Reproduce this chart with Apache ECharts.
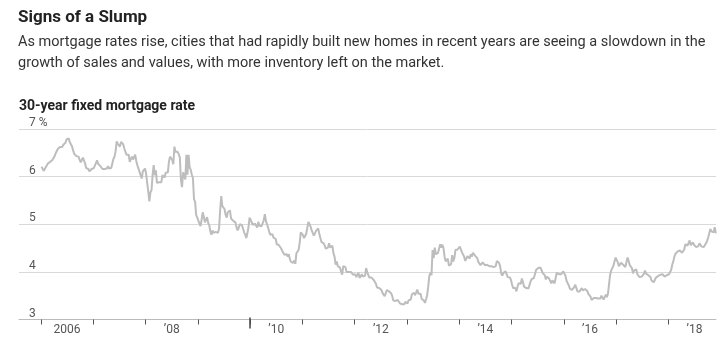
<!DOCTYPE html>
<html>
<head>
<meta charset="utf-8">
<script src="https://cdn.jsdelivr.net/npm/echarts@6/dist/echarts.min.js"></script>
<style>
  html, body { margin: 0; padding: 0; background: #fff; }
  #chart { width: 728px; height: 350px; }
</style>
</head>
<body>
<div id="chart"></div>
<script>
// weekly 30-year fixed rate, 4 readings per month
const rates2006 = [6.21, 6.21, 6.12, 6.12, 6.20, 6.24, 6.28, 6.24, 6.31, 6.35, 6.35, 6.37, 6.43, 6.49, 6.53, 6.58, 6.58, 6.62, 6.60, 6.62, 6.67, 6.63, 6.71, 6.78, 6.74, 6.80, 6.72, 6.72, 6.64, 6.55, 6.48, 6.48, 6.43, 6.40, 6.42, 6.35, 6.30, 6.34, 6.40, 6.37, 6.28, 6.18, 6.14, 6.16, 6.11, 6.14, 6.16, 6.18]
const rates2007 = [6.18, 6.23, 6.25, 6.34, 6.27, 6.29, 6.22, 6.18, 6.16, 6.14, 6.16, 6.16, 6.17, 6.22, 6.17, 6.16, 6.18, 6.15, 6.37, 6.42, 6.53, 6.74, 6.69, 6.67, 6.63, 6.73, 6.69, 6.68, 6.59, 6.62, 6.46, 6.45, 6.46, 6.31, 6.34, 6.42, 6.36, 6.40, 6.46, 6.33, 6.24, 6.20, 6.10, 6.10, 5.96, 6.11, 6.14, 6.17]
const rates2008 = [6.07, 5.87, 5.69, 5.48, 5.67, 5.72, 6.04, 6.24, 6.03, 6.13, 5.87, 5.85, 5.88, 5.88, 5.88, 6.03, 6.06, 5.98, 6.08, 6.08, 6.09, 6.32, 6.42, 6.45, 6.35, 6.26, 6.63, 6.52, 6.52, 6.52, 6.47, 6.40, 5.93, 5.78, 6.09, 6.10, 5.94, 6.46, 6.04, 6.46, 6.20, 6.14, 6.04, 5.97, 5.53, 5.47, 5.19, 5.14]
const rates2009 = [5.10, 5.01, 4.96, 5.10, 5.25, 5.16, 5.04, 5.07, 5.15, 5.03, 4.98, 4.85, 4.78, 4.87, 4.82, 4.78, 4.84, 4.86, 4.82, 4.91, 5.29, 5.59, 5.38, 5.42, 5.32, 5.20, 5.14, 5.25, 5.22, 5.29, 5.12, 5.08, 5.07, 5.03, 5.04, 4.94, 4.87, 4.92, 5.00, 5.03, 4.98, 4.91, 4.83, 4.78, 4.71, 4.81, 4.94, 5.14]
const rates2010 = [5.09, 5.06, 4.99, 4.98, 5.01, 4.97, 4.93, 5.05, 4.97, 4.95, 4.96, 4.99, 5.08, 5.21, 5.07, 5.00, 4.93, 4.84, 4.78, 4.78, 4.79, 4.72, 4.75, 4.69, 4.58, 4.57, 4.56, 4.54, 4.49, 4.44, 4.42, 4.36, 4.35, 4.37, 4.32, 4.37, 4.27, 4.21, 4.23, 4.19, 4.24, 4.17, 4.39, 4.40, 4.46, 4.61, 4.83, 4.86]
const rates2011 = [4.77, 4.71, 4.74, 4.80, 4.81, 5.05, 5.00, 4.95, 4.87, 4.88, 4.76, 4.81, 4.86, 4.87, 4.91, 4.80, 4.71, 4.63, 4.61, 4.60, 4.55, 4.49, 4.50, 4.51, 4.60, 4.51, 4.52, 4.55, 4.39, 4.32, 4.15, 4.22, 4.12, 4.09, 4.09, 4.01, 3.94, 4.12, 4.11, 4.10, 4.00, 3.99, 4.00, 3.98, 4.00, 3.99, 3.94, 3.91]
const rates2012 = [3.95, 3.89, 3.88, 3.98, 3.87, 3.87, 3.95, 3.90, 3.88, 3.92, 4.08, 3.99, 3.98, 3.88, 3.90, 3.88, 3.84, 3.83, 3.79, 3.75, 3.67, 3.71, 3.66, 3.66, 3.62, 3.56, 3.53, 3.49, 3.55, 3.62, 3.66, 3.59, 3.55, 3.55, 3.49, 3.40, 3.36, 3.39, 3.37, 3.41, 3.40, 3.34, 3.31, 3.32, 3.34, 3.32, 3.37, 3.35]
const rates2013 = [3.34, 3.40, 3.38, 3.42, 3.53, 3.53, 3.56, 3.51, 3.51, 3.63, 3.54, 3.57, 3.54, 3.43, 3.41, 3.40, 3.35, 3.42, 3.51, 3.69, 3.91, 3.98, 3.93, 4.46, 4.29, 4.51, 4.37, 4.39, 4.40, 4.40, 4.58, 4.51, 4.57, 4.50, 4.32, 4.22, 4.23, 4.28, 4.13, 4.10, 4.16, 4.35, 4.22, 4.29, 4.46, 4.42, 4.47, 4.48]
const rates2014 = [4.53, 4.51, 4.41, 4.39, 4.32, 4.23, 4.28, 4.33, 4.37, 4.28, 4.37, 4.32, 4.40, 4.41, 4.34, 4.33, 4.29, 4.21, 4.20, 4.14, 4.14, 4.20, 4.17, 4.14, 4.15, 4.15, 4.13, 4.12, 4.14, 4.12, 4.10, 4.10, 4.10, 4.12, 4.23, 4.20, 4.19, 4.12, 3.97, 3.92, 3.98, 4.02, 4.01, 3.97, 3.89, 3.93, 3.88, 3.83]
const rates2015 = [3.73, 3.66, 3.63, 3.66, 3.59, 3.69, 3.76, 3.80, 3.75, 3.86, 3.78, 3.69, 3.70, 3.66, 3.67, 3.65, 3.68, 3.80, 3.85, 3.84, 3.87, 3.87, 4.04, 4.00, 4.08, 4.04, 4.09, 4.04, 3.98, 3.94, 3.93, 3.84, 3.90, 3.91, 3.86, 3.85, 3.76, 3.82, 3.79, 3.76, 3.87, 3.98, 3.97, 3.95, 3.93, 3.95, 3.97, 4.01]
const rates2016 = [3.97, 3.92, 3.81, 3.79, 3.72, 3.65, 3.65, 3.62, 3.64, 3.68, 3.73, 3.71, 3.59, 3.58, 3.59, 3.59, 3.66, 3.61, 3.57, 3.64, 3.66, 3.60, 3.54, 3.56, 3.48, 3.41, 3.42, 3.45, 3.43, 3.45, 3.43, 3.44, 3.46, 3.44, 3.50, 3.48, 3.42, 3.47, 3.52, 3.47, 3.54, 3.57, 3.94, 4.03, 4.08, 4.13, 4.16, 4.30]
const rates2017 = [4.32, 4.20, 4.12, 4.09, 4.19, 4.17, 4.15, 4.16, 4.10, 4.21, 4.30, 4.23, 4.14, 4.10, 4.08, 3.97, 4.03, 4.02, 4.05, 3.95, 3.94, 3.89, 3.91, 3.90, 3.88, 3.96, 4.03, 3.96, 3.92, 3.93, 3.90, 3.89, 3.82, 3.78, 3.78, 3.83, 3.88, 3.85, 3.91, 3.88, 3.94, 3.94, 3.95, 3.92, 3.90, 3.94, 3.93, 3.94]
const rates2018 = [3.95, 3.99, 4.04, 4.15, 4.22, 4.32, 4.38, 4.40, 4.43, 4.46, 4.45, 4.44, 4.40, 4.42, 4.47, 4.58, 4.55, 4.55, 4.61, 4.66, 4.56, 4.54, 4.62, 4.57, 4.55, 4.52, 4.53, 4.54, 4.60, 4.59, 4.53, 4.51, 4.52, 4.54, 4.60, 4.65, 4.72, 4.71, 4.90, 4.85, 4.86, 4.83, 4.94, 4.81]

const years = [2006, 2007, 2008, 2009, 2010, 2011, 2012, 2013, 2014, 2015, 2016, 2017, 2018]
const labelYears = [2006, 2008, 2010, 2012, 2014, 2016, 2018]
const yTicks = [3, 4, 5, 6, 7]

const ratesByYear = [rates2006, rates2007, rates2008, rates2009, rates2010, rates2011, rates2012,
    rates2013, rates2014, rates2015, rates2016, rates2017, rates2018]

const font = "Roboto, sans-serif"

// fractional year for each weekly reading
const points = []
ratesByYear.forEach((list, k) => {
    list.forEach((v, i) => {
        points.push([years[k] + (i + 0.5) / 48, v])
    })
})

const chart = echarts.init(document.getElementById('chart'))
const xMin = 2005.58
const xMax = 2018.91

const option = {
    animation: false,
    title: [
        {
            text: 'Signs of a Slump',
            subtext: 'As mortgage rates rise, cities that had rapidly built new homes in recent years are seeing a slowdown in the\ngrowth of sales and values, with more inventory left on the market.',
            left: 13,
            top: 4,
            itemGap: 6,
            textStyle: {
                fontFamily: font,
                fontSize: 17,
                fontWeight: 'bold',
                color: '#222',
            },
            subtextStyle: {
                fontFamily: font,
                fontSize: 14.5,
                color: '#333',
                lineHeight: 21,
            },
        },
        {
            text: '30-year fixed mortgage rate',
            left: 14,
            top: 94,
            textStyle: {
                fontFamily: font,
                fontSize: 14,
                fontWeight: 'bold',
                color: '#222',
            },
        },
    ],
    grid: {
        left: 19,
        right: 12,
        top: 129,
        bottom: 30.5,
    },
    xAxis: [
        {
            type: 'value',
            min: xMin,
            max: xMax,
            splitLine: { show: false },
            axisLine: {
                show: true,
                lineStyle: { color: '#bbb', width: 1 },
            },
            axisTick: {
                show: true,
                customValues: years,
                length: 5,
                lineStyle: { color: '#555', width: 1 },
            },
            axisLabel: {
                customValues: labelYears.map(y => y + 0.5),
                formatter: v => {
                    const y = Math.floor(v)
                    return y === 2006 ? '2006' : '\u2019' + String(y).slice(2)
                },
                fontFamily: font,
                fontSize: 12,
                color: '#555',
                margin: 4,
            },
        },
        {
            // longer mark at 2010
            type: 'value',
            min: xMin,
            max: xMax,
            position: 'bottom',
            offset: -2,
            splitLine: { show: false },
            axisLine: { show: false },
            axisTick: {
                show: true,
                customValues: [2010],
                length: 11,
                lineStyle: { color: '#444', width: 1.5 },
            },
            axisLabel: { show: false },
        },
    ],
    yAxis: {
        type: 'value',
        min: 3,
        max: 7,
        interval: 1,
        axisLine: { show: false },
        axisTick: { show: false },
        splitLine: {
            show: true,
            lineStyle: { color: '#d9d9d9', width: 1 },
        },
        axisLabel: {
            inside: true,
            margin: 10,
            verticalAlign: 'bottom',
            padding: [0, 0, 0, 0],
            fontFamily: font,
            fontSize: 12,
            color: '#555',
            formatter: v => (yTicks.indexOf(v) === yTicks.length - 1 ? v + ' %' : String(v)),
        },
    },
    series: [
        {
            name: 'rate',
            type: 'line',
            data: points,
            showSymbol: false,
            clip: true,
            lineStyle: { color: '#bdbdbd', width: 2 },
            z: 3,
        },
    ],
}
chart.setOption(option)
</script>
</body>
</html>
